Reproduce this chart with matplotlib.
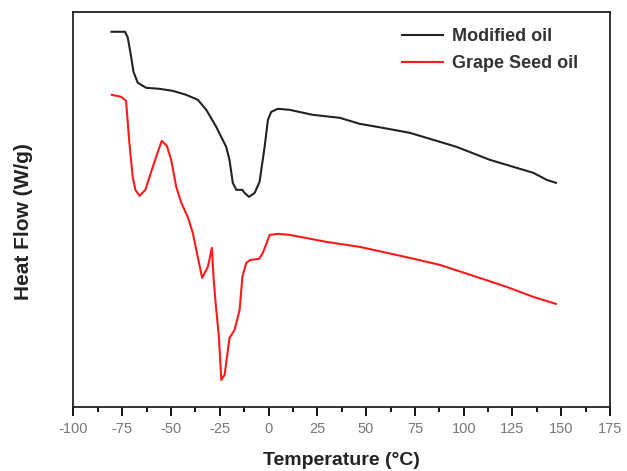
import matplotlib
matplotlib.use("Agg")
import matplotlib.pyplot as plt
from matplotlib.ticker import MultipleLocator

plt.rcParams['font.family'] = ['Liberation Sans', 'DejaVu Sans']
plt.rcParams['axes.unicode_minus'] = False

# Modified oil (black)
mod_temp = [-80.5, -75.5, -73.5, -72.1, -70.4, -69.2, -67, -62.7, -55.9, -49.2,
            -42.2, -36.2, -31.9, -26.8, -21.7, -20, -18.3, -16.5, -13.4, -12.3,
            -10, -7.1, -4.6, -2, -0.3, 1.4, 4.8, 10.8, 22.6, 36.5,
            46.7, 58.5, 72.4, 87.8, 96.3, 113.4, 135.7, 142.5, 147.3]
mod_flow = [3.75, 3.75, 3.75, 3.69, 3.50, 3.35, 3.24, 3.19, 3.18, 3.16,
            3.12, 3.07, 2.97, 2.80, 2.60, 2.47, 2.24, 2.17, 2.17, 2.14,
            2.10, 2.14, 2.25, 2.60, 2.87, 2.95, 2.98, 2.97, 2.92, 2.89,
            2.83, 2.79, 2.74, 2.65, 2.60, 2.47, 2.34, 2.27, 2.24]

# Grape seed oil (red)
gso_temp = [-80.3, -75.5, -73, -71.3, -69.6, -68.2, -66.1, -63.1, -59.3, -56.7,
            -54.7, -52.1, -49.9, -47.3, -44.7, -41.4, -38.8, -36.7, -34, -31.1,
            -29, -28.2, -27.1, -25.4, -24.2, -22.5, -20, -17.4, -14.8, -13.4,
            -11.4, -9.3, -4.9, -2.9, 0.6, 4.8, 10.8, 29.7, 46.7, 72.4,
            87.8, 106.6, 122, 135.7, 147.3]
gso_flow = [3.12, 3.10, 3.06, 2.64, 2.30, 2.17, 2.11, 2.17, 2.40, 2.55,
            2.66, 2.61, 2.47, 2.20, 2.04, 1.90, 1.74, 1.54, 1.29, 1.40,
            1.59, 1.30, 1.04, 0.69, 0.27, 0.32, 0.69, 0.77, 0.97, 1.30,
            1.44, 1.47, 1.48, 1.54, 1.72, 1.73, 1.72, 1.65, 1.60, 1.49,
            1.42, 1.30, 1.20, 1.10, 1.03]

fig = plt.figure(figsize=(6.27, 4.71), dpi=100)
ax = fig.add_axes([0.117, 0.136, 0.856, 0.839])

ax.plot(mod_temp, mod_flow, color='#222222', lw=1.5, label='Modified oil')
ax.plot(gso_temp, gso_flow, color='#ff1a1a', lw=1.5, label='Grape Seed oil')

ax.set_xlim(-100, 175)
ax.set_ylim(0, 3.95)
ax.xaxis.set_major_locator(MultipleLocator(25))
ax.xaxis.set_minor_locator(MultipleLocator(12.5))
ax.tick_params(axis='x', which='major', direction='out', length=6.5, width=1.3,
               labelsize=10.5, labelcolor='#777777', pad=4)
ax.tick_params(axis='x', which='minor', direction='out', length=3.3, width=1.3)
ax.set_yticks([])
for s in ax.spines.values():
    s.set_linewidth(1.3)
    s.set_color('#222222')

ax.set_xlabel('Temperature (°C)', fontsize=14, fontweight='bold', color='#222222', labelpad=12)
ax.set_ylabel('Heat Flow (W/g)', fontsize=15, fontweight='bold', color='#222222')
ax.yaxis.set_label_coords(-0.075, 0.47)

leg = ax.legend(loc='upper right', frameon=False, fontsize=13, handlelength=2.3,
                handletextpad=0.45, labelspacing=0.55,
                bbox_to_anchor=(0.97, 1.0))
for t in leg.get_texts():
    t.set_fontweight('bold')
    t.set_color('#333333')

fig.savefig('out.png', dpi=100)
